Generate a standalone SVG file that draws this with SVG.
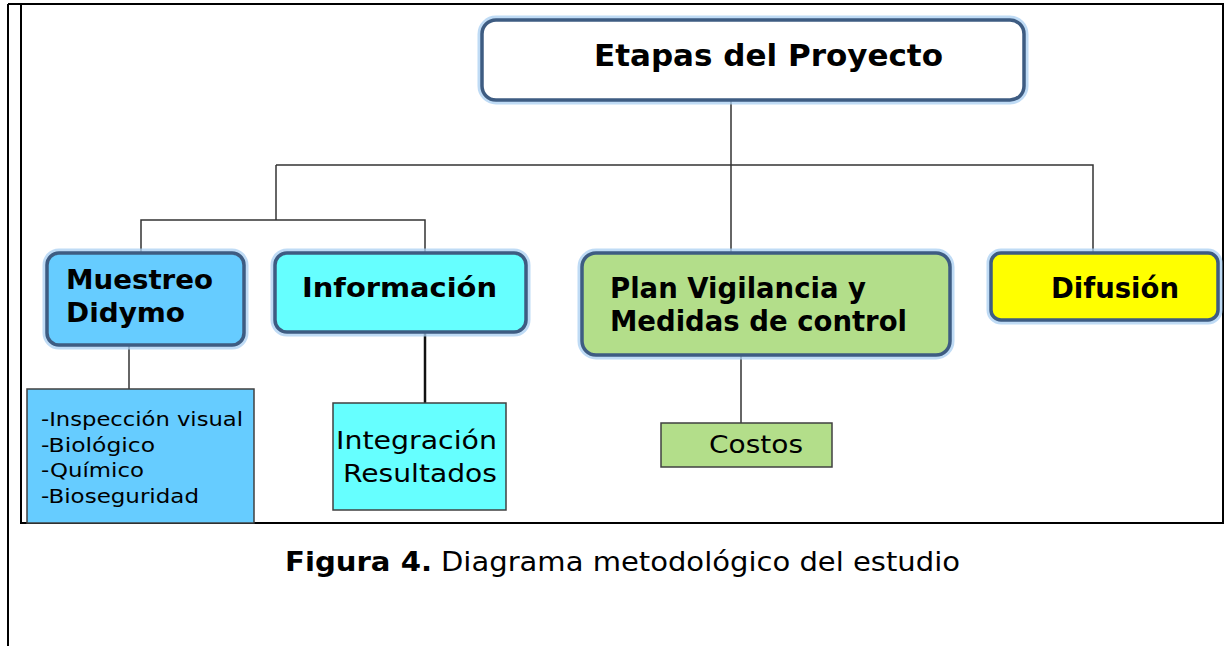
<svg xmlns="http://www.w3.org/2000/svg" width="1225" height="646" viewBox="0 0 1225 646">
<style>
.frame{fill:none;stroke:#000;stroke-width:2}
.glow{fill:none;stroke:#a9cff2;stroke-width:9;opacity:0.75}
.main{stroke:#3e5c82;stroke-width:3.5}
.sub{stroke:#404040;stroke-width:1.5}
.conn{fill:none;stroke:#333;stroke-width:1.5}
.hb{font-family:"DejaVu Sans",Verdana,sans-serif;font-weight:bold;font-size:26px;fill:#000}
.cb{font-family:"DejaVu Sans",Verdana,sans-serif;font-weight:bold;fill:#000}
.tx{font-family:"DejaVu Sans",Verdana,sans-serif;fill:#000}
</style>
<rect width="1225" height="646" fill="#fff"/>
<g id="frame">
<line class="frame" x1="8" y1="4" x2="8" y2="646"/>
<rect class="frame" x="21" y="4" width="1202" height="519"/>
<line class="frame" x1="8" y1="4" x2="21" y2="4"/>
</g>
<g id="connectors">
<path class="conn" d="M731 98 V252"/>
<path class="conn" d="M276 165 H1093 V253"/>
<path class="conn" d="M276 165 V220"/>
<path class="conn" d="M141 253 V220 H425 V253"/>
<path class="conn" d="M129 345 V401"/>
<path class="conn" d="M425 332 V403" style="stroke-width:2.5;stroke:#111"/>
<path class="conn" d="M741 355 V423"/>
</g>
<g id="etapas">
<rect class="glow" x="482" y="20" width="542" height="80" rx="14"/>
<rect class="main" x="482" y="20" width="542" height="80" rx="14" fill="#fff"/>
<text class="cb" x="594" y="66" font-size="31" textLength="349" lengthAdjust="spacingAndGlyphs">Etapas del Proyecto</text>
</g>
<g id="muestreo">
<rect class="glow" x="47" y="253" width="197" height="92" rx="12"/>
<rect class="main" x="47" y="253" width="197" height="92" rx="12" fill="#66ccff"/>
<text class="hb" x="66" y="289" textLength="147" lengthAdjust="spacingAndGlyphs">Muestreo</text>
<text class="hb" x="66" y="322" textLength="119" lengthAdjust="spacingAndGlyphs">Didymo</text>
</g>
<g id="informacion">
<rect class="glow" x="275" y="253" width="251" height="79" rx="12"/>
<rect class="main" x="275" y="253" width="251" height="79" rx="12" fill="#66ffff"/>
<text class="hb" x="302" y="297" textLength="195" lengthAdjust="spacingAndGlyphs">Información</text>
</g>
<g id="plan">
<rect class="glow" x="582" y="253" width="368" height="102" rx="14"/>
<rect class="main" x="582" y="253" width="368" height="102" rx="14" fill="#b3de8a"/>
<text class="cb" x="610" y="298" font-size="28" textLength="256" lengthAdjust="spacingAndGlyphs">Plan Vigilancia y</text>
<text class="cb" x="610" y="331" font-size="28" textLength="297" lengthAdjust="spacingAndGlyphs">Medidas de control</text>
</g>
<g id="difusion">
<rect class="glow" x="991" y="253" width="227" height="67" rx="10"/>
<rect class="main" x="991" y="253" width="227" height="67" rx="10" fill="#ffff00"/>
<text class="cb" x="1051" y="298" font-size="29" textLength="128" lengthAdjust="spacingAndGlyphs">Difusión</text>
</g>
<g id="muestreo-detalle">
<rect class="sub" x="27" y="389" width="227" height="134" fill="#66ccff"/>
<text class="tx" font-size="20" x="41" y="426" textLength="202" lengthAdjust="spacingAndGlyphs">-Inspección visual</text>
<text class="tx" font-size="20" x="41" y="452" textLength="114" lengthAdjust="spacingAndGlyphs">-Biológico</text>
<text class="tx" font-size="20" x="41" y="477" textLength="103" lengthAdjust="spacingAndGlyphs">-Químico</text>
<text class="tx" font-size="20" x="41" y="503" textLength="158" lengthAdjust="spacingAndGlyphs">-Bioseguridad</text>
</g>
<g id="integracion">
<rect class="sub" x="333" y="403" width="173" height="107" fill="#66ffff"/>
<text class="tx" font-size="25" x="336" y="449" textLength="161" lengthAdjust="spacingAndGlyphs">Integración</text>
<text class="tx" font-size="25" x="343" y="482" textLength="154" lengthAdjust="spacingAndGlyphs">Resultados</text>
</g>
<g id="costos">
<rect class="sub" x="661" y="423" width="171" height="44" fill="#b3de8a"/>
<text class="tx" font-size="25" x="709" y="453" textLength="94" lengthAdjust="spacingAndGlyphs">Costos</text>
</g>
<g id="caption">
<text class="tx" font-size="26" x="285" y="571" font-weight="bold" textLength="147" lengthAdjust="spacingAndGlyphs">Figura 4.</text>
<text class="tx" font-size="26" x="441" y="571" textLength="519" lengthAdjust="spacingAndGlyphs">Diagrama metodológico del estudio</text>
</g>
</svg>
